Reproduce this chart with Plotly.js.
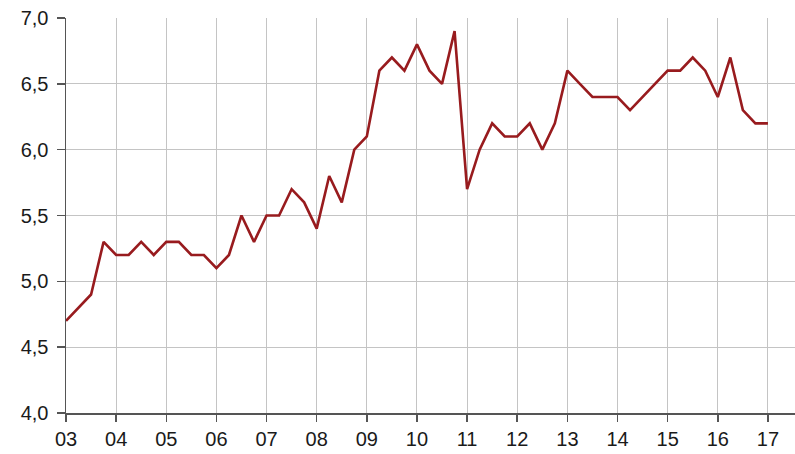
<!DOCTYPE html>
<html>
<head>
<meta charset="utf-8">
<script src="https://cdn.plot.ly/plotly-3.0.1.min.js"></script>
<style>html,body{margin:0;padding:0;background:#fff;}#chart{width:795px;height:454px;}</style>
</head>
<body>
<div id="chart"></div>
<script>
// Quarterly observations, 2003 Q1 .. 2017 Q1 (x in years since 2000)
const quarters = [
  3, 3.25, 3.5, 3.75,
  4, 4.25, 4.5, 4.75,
  5, 5.25, 5.5, 5.75,
  6, 6.25, 6.5, 6.75,
  7, 7.25, 7.5, 7.75,
  8, 8.25, 8.5, 8.75,
  9, 9.25, 9.5, 9.75,
  10, 10.25, 10.5, 10.75,
  11, 11.25, 11.5, 11.75,
  12, 12.25, 12.5, 12.75,
  13, 13.25, 13.5, 13.75,
  14, 14.25, 14.5, 14.75,
  15, 15.25, 15.5, 15.75,
  16, 16.25, 16.5, 16.75,
  17
];
const values = [
  4.7, 4.8, 4.9, 5.3,
  5.2, 5.2, 5.3, 5.2,
  5.3, 5.3, 5.2, 5.2,
  5.1, 5.2, 5.5, 5.3,
  5.5, 5.5, 5.7, 5.6,
  5.4, 5.8, 5.6, 6.0,
  6.1, 6.6, 6.7, 6.6,
  6.8, 6.6, 6.5, 6.9,
  5.7, 6.0, 6.2, 6.1,
  6.1, 6.2, 6.0, 6.2,
  6.6, 6.5, 6.4, 6.4,
  6.4, 6.3, 6.4, 6.5,
  6.6, 6.6, 6.7, 6.6,
  6.4, 6.7, 6.3, 6.2,
  6.2
];
const xTickVals = [3,4,5,6,7,8,9,10,11,12,13,14,15,16,17];
const xTickText = ["03","04","05","06","07","08","09","10","11","12","13","14","15","16","17"];
const yTickVals = [4.0,4.5,5.0,5.5,6.0,6.5,7.0];
const yTickText = ["4,0","4,5","5,0","5,5","6,0","6,5","7,0"];

const trace = {
  x: quarters, y: values, type: 'scatter', mode: 'lines',
  line: {color: '#981b1e', width: 2.6},
  hoverinfo: 'skip'
};
const font = {family: 'Liberation Sans, Arial, sans-serif', size: 20, color: '#1a1a1a'};
const layout = {
  width: 795, height: 454,
  margin: {l: 66, r: 0, t: 18, b: 41, pad: 0},
  paper_bgcolor: '#fff', plot_bgcolor: '#fff',
  showlegend: false,
  font: font,
  xaxis: {
    range: [3, 17.54], tickmode: 'array', tickvals: xTickVals, ticktext: xTickText,
    showgrid: true, gridcolor: '#c4c4c4', gridwidth: 1,
    showline: true, linecolor: '#555', linewidth: 1.5,
    ticks: 'outside', ticklen: 7, tickcolor: '#555', tickwidth: 1.5,
    zeroline: false, tickfont: font, fixedrange: true
  },
  yaxis: {
    range: [4, 7], tickmode: 'array', tickvals: yTickVals, ticktext: yTickText,
    showgrid: true, gridcolor: '#c4c4c4', gridwidth: 1,
    showline: true, linecolor: '#555', linewidth: 1.5,
    ticks: 'outside', ticklen: 8, tickcolor: '#555', tickwidth: 1.5,
    zeroline: false, tickfont: font, fixedrange: true, ticklabelstandoff: 4
  }
};
Plotly.newPlot('chart', [trace], layout, {staticPlot: true, displayModeBar: false});
</script>
</body>
</html>
